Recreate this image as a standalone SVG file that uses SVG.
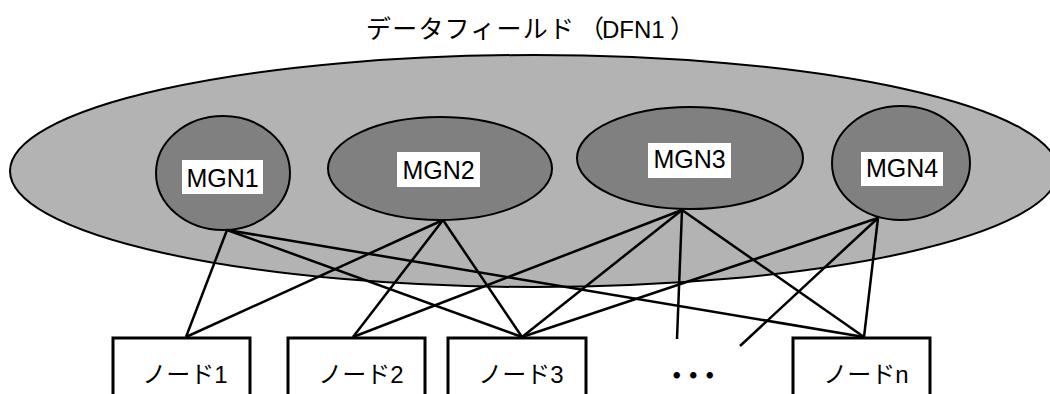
<svg xmlns="http://www.w3.org/2000/svg" width="1050" height="394" viewBox="0 0 1050 394">
<style>
.t{font-family:"Liberation Sans","Noto Sans CJK JP",sans-serif;fill:#000}
.mgn{fill:#808080;stroke:#000;stroke-width:2}
.lbl{fill:#fff;stroke:none}
.box{fill:#fff;stroke:#000;stroke-width:3}
.c line{stroke:#000;stroke-width:2.5}
</style>
<rect width="1050" height="394" fill="#fff"/>
<g id="dfn1">
<ellipse cx="534" cy="171" rx="524" ry="116" fill="#b3b3b3" stroke="#000" stroke-width="2"/>
<text class="t" y="38" font-size="25"><tspan x="366" letter-spacing="1.2">データフィールド</tspan><tspan x="579">（</tspan><tspan x="602" font-size="24">DFN1</tspan><tspan x="670">）</tspan></text>
</g>
<g id="mgn1">
<ellipse class="mgn" cx="223" cy="173" rx="67" ry="57"/>
<rect class="lbl" x="182" y="160" width="81" height="34"/>
<text class="t" x="222.5" y="187" font-size="25" text-anchor="middle">MGN1</text>
</g>
<g id="mgn2">
<ellipse class="mgn" cx="440" cy="168.5" rx="112" ry="51.5"/>
<rect class="lbl" x="397" y="152" width="83" height="35"/>
<text class="t" x="438.5" y="179" font-size="25" text-anchor="middle">MGN2</text>
</g>
<g id="mgn3">
<ellipse class="mgn" cx="690" cy="158" rx="113" ry="51"/>
<rect class="lbl" x="648" y="143" width="83" height="35"/>
<text class="t" x="689.5" y="168" font-size="25" text-anchor="middle">MGN3</text>
</g>
<g id="mgn4">
<ellipse class="mgn" cx="901" cy="163" rx="69" ry="57"/>
<rect class="lbl" x="861" y="152" width="82" height="34"/>
<text class="t" x="902" y="177" font-size="25" text-anchor="middle">MGN4</text>
</g>
<g id="connectors" class="c">
<line x1="227" y1="230" x2="186" y2="337"/>
<line x1="227" y1="230" x2="522" y2="337"/>
<line x1="227" y1="230" x2="864" y2="337"/>
<line x1="443" y1="220" x2="186" y2="337"/>
<line x1="443" y1="220" x2="353" y2="337"/>
<line x1="443" y1="220" x2="522" y2="337"/>
<line x1="682" y1="210" x2="353" y2="337"/>
<line x1="682" y1="210" x2="522" y2="337"/>
<line x1="682" y1="210" x2="677" y2="339"/>
<line x1="682" y1="210" x2="864" y2="337"/>
<line x1="878" y1="218" x2="522" y2="337"/>
<line x1="878" y1="218" x2="740" y2="346"/>
<line x1="878" y1="218" x2="864" y2="337"/>
</g>
<g id="node1">
<rect class="box" x="113" y="338" width="137" height="70"/>
<text class="t" x="185" y="383" font-size="24" text-anchor="middle">ノード1</text>
</g>
<g id="node2">
<rect class="box" x="288" y="338" width="137" height="70"/>
<text class="t" x="361" y="383" font-size="24" text-anchor="middle">ノード2</text>
</g>
<g id="node3">
<rect class="box" x="448" y="338" width="138" height="70"/>
<text class="t" x="521" y="383" font-size="24" text-anchor="middle">ノード3</text>
</g>
<g id="dots">
<text class="t" x="689" y="385" font-size="25" text-anchor="middle" letter-spacing="-8.5" font-weight="bold">・・・</text>
</g>
<g id="noden">
<rect class="box" x="793" y="338" width="137" height="70"/>
<text class="t" x="866" y="383" font-size="24" text-anchor="middle">ノードn</text>
</g>
</svg>
